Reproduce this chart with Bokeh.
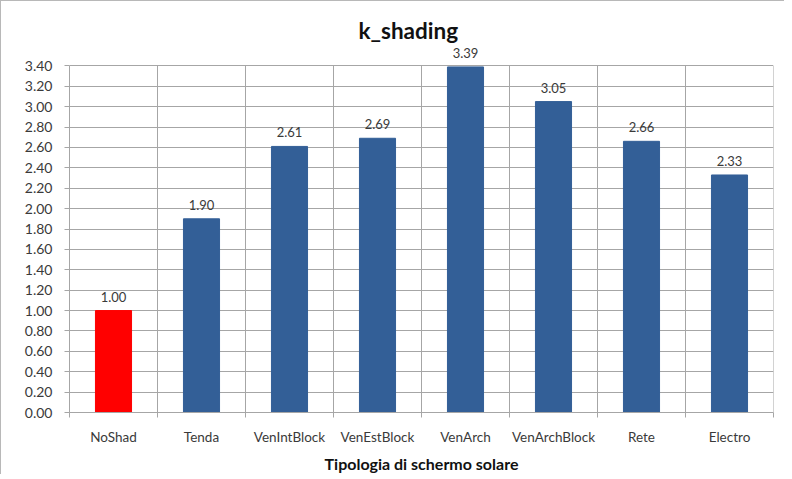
from bokeh.plotting import figure
from bokeh.models import ColumnDataSource, FixedTicker, LabelSet, Range1d
from bokeh.core.properties import value
from bokeh.embed import file_html
from bokeh.resources import INLINE

categories = ["NoShad", "Tenda", "VenIntBlock", "VenEstBlock", "VenArch", "VenArchBlock", "Rete", "Electro"]
values = [1.00, 1.90, 2.61, 2.69, 3.39, 3.05, 2.66, 2.33]
colors = ["#FF0000"] + ["#335F97"] * 7
y_ticks = [round(0.2 * i, 2) for i in range(18)]

FONT = "Lato"
TXT = "#3a3a3a"
GRID = "#a6a6a6"

n = len(categories)
xs = [i + 0.5 for i in range(n)]
bounds = list(range(n + 1))
y_top = y_ticks[-1]

src = ColumnDataSource(dict(x=xs, top=values, color=colors,
                            lab=["%.2f" % v for v in values]))

p = figure(width=784, height=474, output_backend="svg", toolbar_location=None,
           x_range=Range1d(0, n), y_range=Range1d(0, y_top + 0.2),
           min_border_left=68, min_border_right=12, min_border_top=44, min_border_bottom=62)
p.styles = {"border-left": "1px solid #b8b8b8", "border-top": "1px solid #b8b8b8"}
p.outline_line_color = None

# vertical separators between categories (only up to the top tick)
p.segment(x0=bounds, y0=[0] * len(bounds), x1=bounds, y1=[y_top] * len(bounds),
          line_color=GRID, line_width=1)

p.vbar(x="x", top="top", width=0.41, color="color", source=src)

p.add_layout(LabelSet(x="x", y="top", text="lab", source=src, text_align="center",
                      text_baseline="alphabetic", y_offset=9, text_font=value(FONT),
                      text_font_size="13px", text_color=TXT))

p.title.text = "k_shading"
p.title.align = "left"
p.title.offset = 289
p.title.text_font = FONT
p.title.text_font_size = "22.5px"
p.title.text_font_style = "bold"
p.title.text_color = "#111111"
p.title.standoff = 3

xa = p.xaxis[0]
xa.ticker = FixedTicker(ticks=xs, minor_ticks=bounds)
xa.major_label_overrides = {x: c for x, c in zip(xs, categories)}
xa.major_tick_out = 0
xa.major_tick_in = 0
xa.minor_tick_out = 5
xa.minor_tick_in = 0
xa.minor_tick_line_color = GRID
xa.axis_line_color = GRID
xa.major_label_text_font = FONT
xa.major_label_text_font_size = "13.5px"
xa.major_label_text_color = TXT
xa.major_label_standoff = 11
xa.axis_label = "Tipologia di schermo solare"
xa.axis_label_text_font = FONT
xa.axis_label_text_font_size = "16px"
xa.axis_label_text_font_style = "bold"
xa.axis_label_text_color = "#111111"
xa.axis_label_standoff = 6

ya = p.yaxis[0]
ya.ticker = FixedTicker(ticks=y_ticks)
ya.bounds = (0, y_top)
ya.major_label_overrides = {t: "%.2f" % t for t in y_ticks}
ya.major_tick_out = 5
ya.major_tick_in = 0
ya.minor_tick_line_color = None
ya.major_tick_line_color = GRID
ya.axis_line_color = GRID
ya.major_label_text_font = FONT
ya.major_label_text_font_size = "14px"
ya.major_label_text_color = TXT
ya.major_label_standoff = 12

p.xgrid.grid_line_color = None
p.ygrid.grid_line_color = GRID

open("out.html", "w").write(file_html(p, INLINE))
